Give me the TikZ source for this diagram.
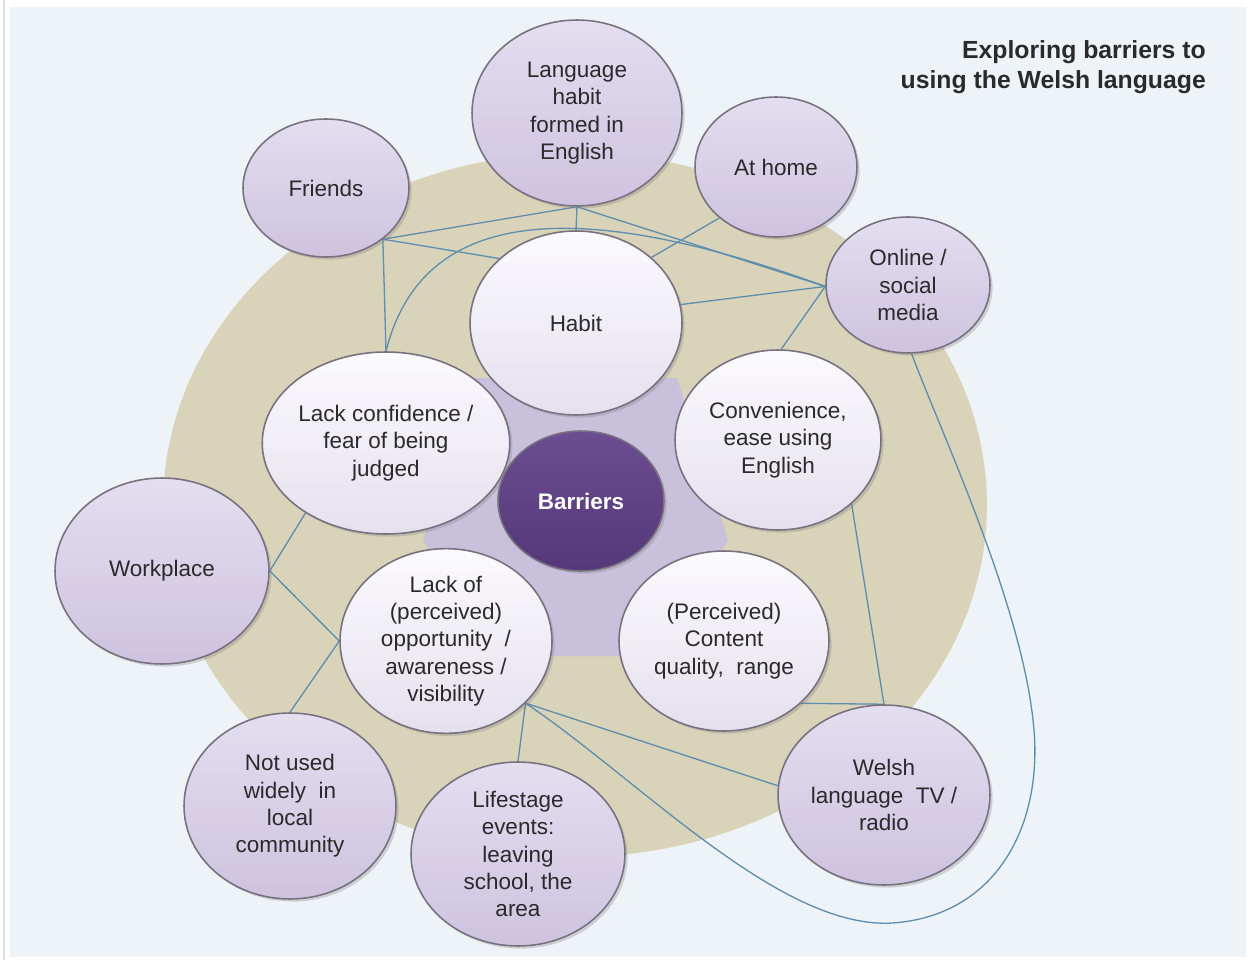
\documentclass[tikz,border=0pt]{standalone}
\usepackage{fontspec}
\setmainfont{Liberation Sans}
\usetikzlibrary{shapes.geometric,shadows}
\definecolor{panelc}{HTML}{EEF3F7}
\definecolor{tanc}{HTML}{D9D3B9}
\definecolor{hexc}{HTML}{C9C0DC}
\definecolor{linec}{HTML}{5E8EAE}
\definecolor{rimc}{HTML}{78717F}
\definecolor{outtop}{HTML}{E4DEF0}
\definecolor{outbot}{HTML}{CDC3DF}
\definecolor{intop}{HTML}{FBFAFD}
\definecolor{inbot}{HTML}{E4E0EE}
\definecolor{bartop}{HTML}{6B4D91}
\definecolor{barbot}{HTML}{553879}
\definecolor{textc}{HTML}{2A2A2A}
\pgfdeclarelayer{backlayer}
\pgfdeclarelayer{linelayer}
\pgfsetlayers{backlayer,linelayer,main}
\tikzset{
  bubble/.style={ellipse, draw=rimc, line width=0.9pt, inner sep=0pt, align=center,
    font=\fontsize{12.8}{15.6}\selectfont, text=textc,
    drop shadow={opacity=0.3, shadow xshift=1.5pt, shadow yshift=-1.5pt}},
  outerbub/.style={bubble, top color=outtop, bottom color=outbot},
  innerbub/.style={bubble, top color=intop, bottom color=inbot},
  corebub/.style={bubble, top color=bartop, bottom color=barbot, text=white, font=\bfseries\fontsize{12.8}{15.6}\selectfont},
  link/.style={draw=linec, line width=0.75pt},
}
\begin{document}
\begin{tikzpicture}[x=0.02cm, y=-0.02cm]
\begin{pgfonlayer}{backlayer}
\useasboundingbox (0,0) rectangle (1252,960);
\fill[white] (0,0) rectangle (1252,960);
\fill[panelc] (10,7) rectangle (1246,957);
\draw[black!12, line width=0.6pt] (4,0) -- (4,960);
\fill[tanc] (575,505) ellipse [x radius=8.24cm, y radius=7.04cm];
\fill[hexc] (475,378) -- (677,378) -- (728,540) -- (655,656) -- (495,656) -- (423,540) -- cycle;
\end{pgfonlayer}

% nodes
\node[outerbub, minimum width=4.2cm, minimum height=3.72cm] (lang) at (577,113) {Language\\habit\\formed in\\English};
\node[outerbub, minimum width=3.24cm, minimum height=2.8cm] (home) at (776,167) {At home};
\node[outerbub, minimum width=3.32cm, minimum height=2.76cm] (friends) at (326,188) {Friends};
\node[outerbub, minimum width=3.28cm, minimum height=2.72cm] (online) at (908,285) {Online /\\social\\media};
\node[innerbub, minimum width=4.24cm, minimum height=3.68cm] (habit) at (576,323) {Habit};
\node[innerbub, minimum width=4.16cm, minimum height=3.64cm] (conf) at (386,443) {Lack confidence /\\fear of being\\judged};
\node[innerbub, minimum width=4.12cm, minimum height=3.6cm] (conv) at (778,440) {Convenience,\\ease using\\English};
\node[corebub, minimum width=3.32cm, minimum height=2.8cm] (barriers) at (581,501) {Barriers};
\node[outerbub, minimum width=4.28cm, minimum height=3.72cm] (work) at (162,571) {Workplace};
\node[innerbub, minimum width=4.24cm, minimum height=3.64cm] (lackof) at (446,641) {Lack of\\(perceived)\\opportunity\ \ /\\awareness /\\visibility};
\node[innerbub, minimum width=4.2cm, minimum height=3.6cm] (content) at (724,641) {(Perceived)\\Content\\quality,\ \ range};
\node[outerbub, minimum width=4.24cm, minimum height=3.72cm] (notused) at (290,806) {Not used\\widely\ \ in\\local\\community};
\node[outerbub, minimum width=4.28cm, minimum height=3.68cm] (life) at (518,854) {Lifestage\\events:\\leaving\\school, the\\area};
\node[outerbub, minimum width=4.24cm, minimum height=3.6cm] (welsh) at (884,795) {Welsh\\language\ \ TV /\\radio};

% connectors (behind nodes)
\begin{pgfonlayer}{linelayer}
\draw[link] (friends.-42) -- (lang.south);
\draw[link] (friends.-42) -- (habit.140);
\draw[link] (friends.-42) -- (conf.north);
\draw[link] (lang.south) -- (habit.north);
\draw[link] (lang.south) -- (online.181);
\draw[link] (home.222) -- (habit.41);
\draw[link] (habit.10) -- (online.181);
\draw[link] (online.181) -- (conv.88);
\draw[link] (conf.north) .. controls (420,215) and (560,190) .. (online.181);
\draw[link] (conf.221) -- (work.east);
\draw[link] (work.east) -- (lackof.west);
\draw[link] (notused.north) -- (lackof.west);
\draw[link] (lackof.-38) -- (life.north);
\draw[link] (lackof.-38) -- (welsh.175);
\draw[link] (conv.-41) -- (welsh.north);
\draw[link] (content.-39) -- (welsh.north);
\draw[link] (lackof.-38) .. controls (640,780) and (780,930) .. (893,923)
   .. controls (1000,915) and (1045,820) .. (1033,720)
   .. controls (1020,600) and (940,430) .. (online.-87);
\end{pgfonlayer}

\node[anchor=east, align=right, font=\bfseries\fontsize{14.1}{17}\selectfont, text=textc] (title) at (1212,67) {Exploring barriers to\\using the Welsh language};
\end{tikzpicture}
\end{document}
